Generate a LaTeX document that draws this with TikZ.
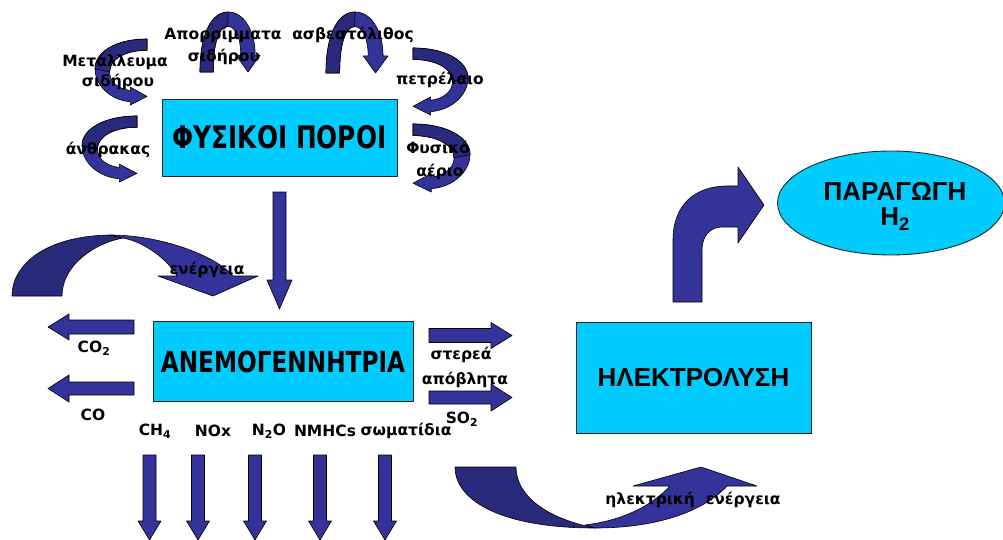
\documentclass[tikz,border=0pt]{standalone}
\usepackage{fontspec}
\usetikzlibrary{shapes.geometric}
\setmainfont{DejaVu Sans}
\newfontfamily\narrowfont{DejaVu Sans}[FakeStretch=0.8]
\newfontfamily\arialfont{Liberation Sans}

\definecolor{navy}{RGB}{51,51,153}
\definecolor{navydark}{RGB}{42,42,124}
\definecolor{skyfill}{RGB}{0,204,255}

\tikzset{
  box/.style={draw=black!85, line width=0.9pt, fill=skyfill, inner sep=0pt},
  blk/.style={fill=navy, draw=black, line width=0.6pt, line join=round},
  blkback/.style={fill=navydark, draw=black, line width=0.6pt, line join=round},
  lbl/.style={font=\fontsize{15.5}{17}\selectfont\bfseries, inner sep=0pt},
  bigtext/.style={font=\narrowfont\bfseries\fontsize{31}{34}\selectfont},
  arialbig/.style={font=\arialfont\bfseries\fontsize{26}{30}\selectfont, inner sep=0pt}
}

% straight block arrow along y: centre x, top, head base, tip, half shaft, half head
\newcommand\vblock[6]{%
  \draw[blk] (#1-#5,#2) -- (#1+#5,#2) -- (#1+#5,#3) -- (#1+#6,#3) -- (#1,#4)
    -- (#1-#6,#3) -- (#1-#5,#3) -- cycle;}
% straight block arrow along x: centre y, tail, head base, tip, half shaft, half head
\newcommand\hblock[6]{%
  \draw[blk] (#2,#1-#5) -- (#3,#1-#5) -- (#3,#1-#6) -- (#4,#1) -- (#3,#1+#6)
    -- (#3,#1+#5) -- (#2,#1+#5) -- cycle;}

% curved side arrow in a unit box: tail at top, bulge to the left, head at bottom right
% args: x0, y0, width (negative mirrors), height
\newcommand\sidecurve[4]{%
  \begin{scope}[shift={(#1,#2)}, xscale=#3, yscale=#4]
    \draw[blk] (1,0) .. controls (0.4,0) and (0,0.2) .. (0,0.45)
      .. controls (0,0.7) and (0.3,0.93) .. (0.68,0.95)
      -- (0.68,1) -- (1,0.87) -- (0.68,0.73) -- (0.68,0.78)
      .. controls (0.45,0.76) and (0.28,0.65) .. (0.28,0.5)
      .. controls (0.28,0.3) and (0.6,0.17) .. (1,0.17) -- cycle;
    \draw[blkback] (1,0) .. controls (0.4,0) and (0,0.2) .. (0,0.45)
      -- (0.28,0.5) .. controls (0.28,0.3) and (0.6,0.17) .. (1,0.17) -- cycle;
  \end{scope}}

% arched arrow in a unit box: tail bottom left, head bottom right pointing down
\newcommand\archcurve[4]{%
  \begin{scope}[shift={(#1,#2)}, xscale=#3, yscale=#4]
    \draw[blk] (0,1) .. controls (0,0.35) and (0.2,0) .. (0.47,0)
      .. controls (0.75,0) and (0.92,0.35) .. (0.92,0.72)
      -- (1,0.72) -- (0.8,1) -- (0.6,0.72) -- (0.68,0.72)
      .. controls (0.68,0.45) and (0.6,0.24) .. (0.46,0.24)
      .. controls (0.32,0.24) and (0.22,0.5) .. (0.22,1) -- cycle;
    \draw[blkback] (0,1) .. controls (0,0.35) and (0.2,0) .. (0.47,0)
      -- (0.46,0.24) .. controls (0.32,0.24) and (0.22,0.5) .. (0.22,1) -- cycle;
  \end{scope}}

\begin{document}
\begin{tikzpicture}[x=1pt, y=-1pt]
  \useasboundingbox (0,0) rectangle (1003,540);
  \fill[white] (0,0) rectangle (1003,540);

  % resource arrows around the top box
  \sidecurve{95}{39}{52}{66}
  \sidecurve{82}{116}{55}{66}
  \sidecurve{468}{48}{-55}{67}
  \sidecurve{470}{124}{-57}{68}
  \archcurve{200}{12}{60}{60}
  \archcurve{326}{12}{62}{61}

  % boxes
  \node[box, minimum width=235, minimum height=77] (fysikoi) at (279.5,137.5)
    {\narrowfont\bfseries\fontsize{31}{34}\selectfont ΦΥΣΙΚΟΙ ΠΟΡΟΙ};
  \node[box, minimum width=260, minimum height=80] (anemo) at (283,361.5)
    {\narrowfont\bfseries\fontsize{29}{32}\selectfont ΑΝΕΜΟΓΕΝΝΗΤΡΙΑ};
  \node[box, minimum width=235, minimum height=111] (hlektro) at (693.5,377.5)
    {\arialfont\bfseries\fontsize{26}{30}\selectfont ΗΛΕΚΤΡΟΛΥΣΗ};
  \node[ellipse, draw=black!85, line width=0.9pt, fill=skyfill,
        minimum width=227, minimum height=104, inner sep=0pt] (paragogi) at (891,203) {};

  % resource labels
  \node[lbl] (metal1) at (115,62) {Μετάλλευμα};
  \node[lbl] (metal2) at (118,82) {σιδήρου};
  \node[lbl] (anthr) at (108,150) {άνθρακας};
  \node[lbl] (apor1) at (223,35) {Απορρίμματα};
  \node[lbl] (apor2) at (224,57) {σιδήρου};
  \node[lbl] (asbe) at (353,35) {ασβεστόλιθος};
  \node[lbl] (petr) at (440,80) {πετρέλαιο};
  \node[lbl] (fys1) at (438,147) {Φυσικό};
  \node[lbl] (fys2) at (440,172) {αέριο};

  % flow from resources into the turbine
  \vblock{279.5}{192}{280}{309}{6.5}{12.5}

  % energy input arrow
  \draw[blkback] (12,296) .. controls (12,265) and (45,236) .. (110,235)
    -- (123,238) .. controls (95,243) and (62,265) .. (62,296) -- cycle;
  \draw[blk] (110,235) .. controls (160,235) and (215,255) .. (233,276)
    -- (258,276) -- (213,296) -- (158,276) -- (177,276)
    .. controls (168,260) and (145,242) .. (123,238) -- cycle;
  \node[lbl] (energy) at (207,270) {ενέργεια};

  % emissions to the left
  \hblock{327}{134}{69}{48}{7}{13}
  \hblock{388.5}{134}{69}{48}{6.5}{13.5}
  \node[lbl] (co2) at (94,348) {CO\textsubscript{2}};
  \node[lbl] (co) at (93,415) {CO};

  % emissions to the right
  \hblock{335.5}{429}{491}{512}{7}{13}
  \hblock{397.5}{429}{491}{512}{6.5}{13.5}
  \node[lbl] (stere) at (461,355) {στερεά};
  \node[lbl] (apobl) at (465,380) {απόβλητα};
  \node[lbl] (so2) at (462,419) {SO\textsubscript{2}};

  % emissions downward
  \node[lbl] (ch4) at (155,431) {CH\textsubscript{4}};
  \node[lbl] (nox) at (213,431) {NOx};
  \node[lbl] (n2o) at (269,431) {N\textsubscript{2}O};
  \node[lbl] (nmhc) at (325,431) {NMHCs};
  \node[lbl] (somat) at (406,431) {σωματίδια};
  \vblock{149.5}{455}{521}{540}{6.5}{11.5}
  \vblock{198}{455}{521}{540}{6.5}{11.5}
  \vblock{255}{455}{521}{540}{6.5}{11.5}
  \vblock{320}{455}{521}{540}{6.5}{11.5}
  \vblock{385}{455}{521}{540}{6.5}{11.5}

  % electrical energy into electrolysis
  \draw[blkback] (455,467) .. controls (455,500) and (500,528) .. (595,528)
    .. controls (545,518) and (516,495) .. (516,467) -- cycle;
  \draw[blk] (585,525) .. controls (625,520) and (652,505) .. (670,486)
    -- (633,486) -- (701,467) -- (757,486) -- (727,486)
    .. controls (705,510) and (660,528) .. (595,528) -- cycle;
  \node[lbl] (elec) at (693,500) {ηλεκτρική\ \ ενέργεια};

  % electrolysis to hydrogen production
  \draw[blk] (673,302) -- (673,240) .. controls (673,205) and (695,186) .. (727,186)
    -- (738,186) -- (738,167) -- (764,205) -- (738,243) -- (738,227) -- (722,227)
    .. controls (710,227) and (702,236) .. (702,250) -- (702,302) -- cycle;

  \node[arialbig] (par1) at (895,191) {ΠΑΡΑΓΩΓΗ};
  \node[arialbig] (par2) at (895,219) {H\textsubscript{2}};
\end{tikzpicture}
\end{document}
